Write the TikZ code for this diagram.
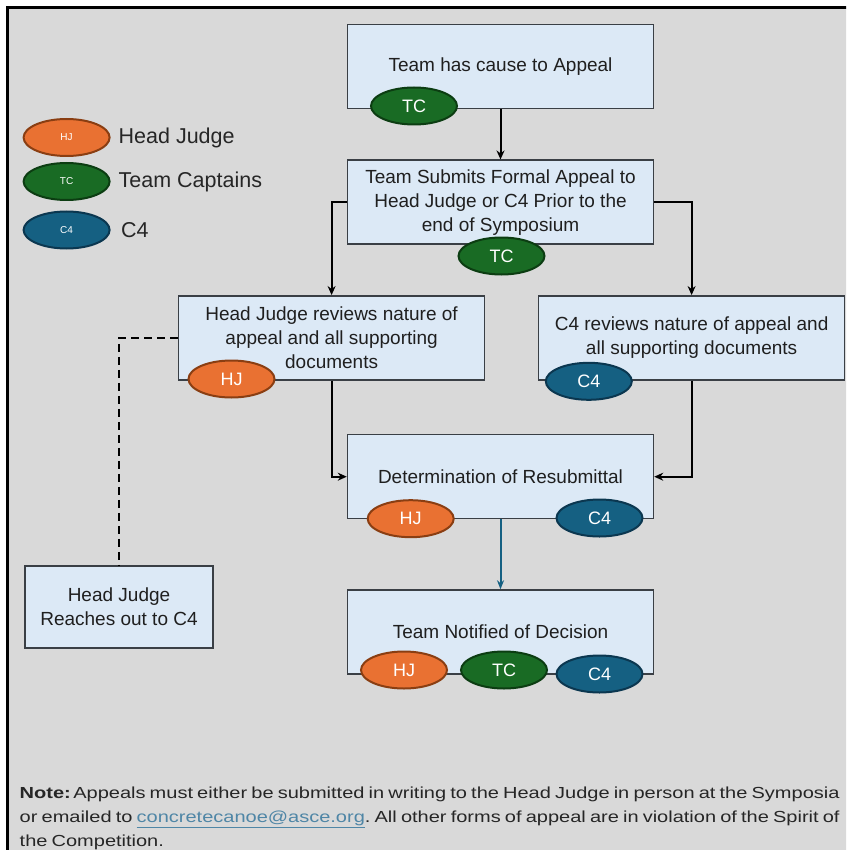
\documentclass[tikz,border=0pt]{standalone}
\usepackage{fontspec}
\setmainfont{Liberation Sans}
\newfontfamily\notefont[FakeStretch=1.25,WordSpace=0.75]{Liberation Sans}
\usetikzlibrary{arrows.meta,shapes.geometric}
\definecolor{bgray}{HTML}{D9D9D9}
\definecolor{boxfill}{HTML}{DCE9F6}
\definecolor{boxline}{HTML}{3A3F45}
\definecolor{hjfill}{HTML}{E97132}
\definecolor{hjline}{HTML}{8A3E12}
\definecolor{tcfill}{HTML}{196B24}
\definecolor{tcline}{HTML}{0C3D12}
\definecolor{cfill}{HTML}{156082}
\definecolor{cline}{HTML}{0B3750}
\definecolor{linkc}{HTML}{4F86A6}
\begin{document}
\begin{tikzpicture}[x=1pt,y=-1pt,
  stepbox/.style={draw=boxline, line width=1.5pt, fill=boxfill, minimum width=306pt, minimum height=84pt, align=center, font=\fontsize{19}{24}\selectfont, text=black!88, inner sep=0pt},
  role/.style={ellipse, line width=2pt, minimum width=86pt, minimum height=37pt, inner sep=0pt, text=white, font=\fontsize{18}{18}\selectfont},
  hj/.style={role, fill=hjfill, draw=hjline},
  tc/.style={role, fill=tcfill, draw=tcline},
  cf/.style={role, fill=cfill, draw=cline},
  tiny/.style={font=\fontsize{10}{10}\selectfont},
  legtext/.style={anchor=west, font=\fontsize{21.5}{24}\selectfont, text=black!85, inner sep=0pt},
  notestyle/.style={anchor=base west, inner sep=0pt, font=\notefont\fontsize{16}{24}\selectfont\frenchspacing, text=black!85},
  arr/.style={line width=2pt, -{Stealth[length=9pt,width=8pt]}},
]
\useasboundingbox (0,0) rectangle (846,850);
\clip (0,0) rectangle (846,850);
\fill[white] (0,0) rectangle (846,850);
\draw[line width=2.5pt, fill=bgray] (7.5,7.5) rectangle (900,900);

% boxes
\node[stepbox] (b1) at (500.5,66.3) {Team has cause to Appeal};
\node[stepbox] (b2) at (500.5,202.2) {Team Submits Formal Appeal to\\Head Judge or C4 Prior to the\\end of Symposium};
\node[stepbox] (b3) at (331.6,337.8) {Head Judge reviews nature of\\appeal and all supporting\\documents};
\node[stepbox] (b4) at (691.6,337.8) {C4 reviews nature of appeal and\\all supporting documents};
\node[stepbox] (b6) at (500.5,476.7) {Determination of Resubmittal};
\node[stepbox, minimum width=188pt, minimum height=82pt] (b5) at (119,607) {Head Judge\\Reaches out to C4};
\node[stepbox] (b7) at (500.5,632) {Team Notified of Decision};

% connectors
\draw[arr] (b1.south) -- (b2.north);
\draw[arr] (b2.west) -| (b3.north);
\draw[arr] (b2.east) -| (b4.north);
\draw[arr] (b3.south) |- (b6.west);
\draw[arr] (b4.south) |- (b6.east);
\draw[line width=2pt, dash pattern=on 8pt off 5pt] (b3.west) -| (b5.north);
\draw[line width=2pt, draw=cfill, -{Stealth[length=9pt,width=7pt]}] (b6.south) -- (b7.north);

% role ellipses on boxes
\node[tc] (e1) at (414,106) {TC};
\node[tc] (e2) at (501.5,256) {TC};
\node[hj] (e3) at (231.5,379) {HJ};
\node[cf] (e4) at (588.8,381.3) {C4};
\node[hj] (e6a) at (410.7,518.7) {HJ};
\node[cf] (e6b) at (599.5,518) {C4};
\node[hj] (e7a) at (404,670) {HJ};
\node[tc] (e7b) at (504,670) {TC};
\node[cf] (e7c) at (599.5,674) {C4};

% legend
\node[hj, tiny] (l1) at (66.6,137.5) {HJ};
\node[tc, tiny] (l2) at (66.6,181.5) {TC};
\node[cf, tiny] (l3) at (66.6,230) {C4};
\node[legtext] (t1) at (118.5,137.7) {Head Judge};
\node[legtext] (t2) at (118.5,181.5) {Team Captains};
\node[legtext] (t3) at (121,230) {C4};

% note
\node[notestyle] (n1) at (19.5,798.3) {\textbf{Note:}\hspace{2.5pt}Appeals must either be submitted in writing to the Head Judge in person at the Symposia};
\node[notestyle] (n2) at (19.5,822.3) {or emailed to \textcolor{linkc}{\underline{concretecanoe@asce.org}}. All other forms of appeal are in violation of the Spirit of};
\node[notestyle] (n3) at (19.5,846.3) {the Competition.};
\end{tikzpicture}
\end{document}
